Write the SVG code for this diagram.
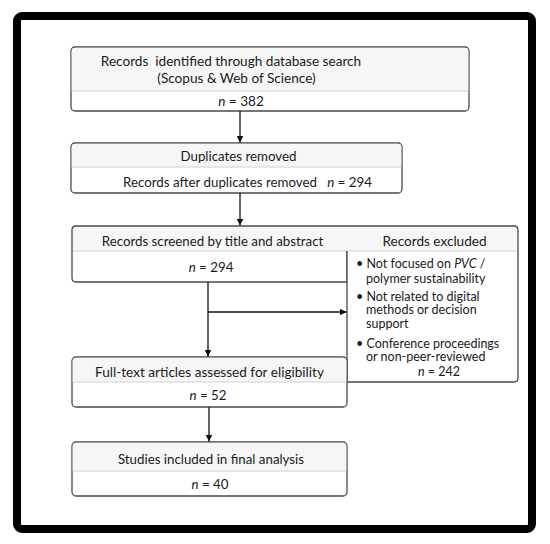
<svg xmlns="http://www.w3.org/2000/svg" width="550" height="544" viewBox="0 0 550 544">
<style>
text{font-family:Lato,"Open Sans","DejaVu Sans",sans-serif;font-size:13.3px;fill:#1a1a1a;white-space:pre}
.big{font-size:13.6px}
.bl{font-size:12.5px}
.box{fill:#fff;stroke:#4a4a4a;stroke-width:1.3}
.hdr{fill:#f6f6f6;stroke:none}
.div{stroke:#d0d0d0;stroke-width:1}
.edge{stroke:#4a4a4a;stroke-width:1.3;fill:none}
.conn{stroke:#111;stroke-width:1.3;fill:none}
.m{text-anchor:middle}
.i{font-style:italic}
</style>
<defs>
<marker id="ah" viewBox="0 0 10 10" refX="10" refY="5" markerWidth="7" markerHeight="7" markerUnits="userSpaceOnUse" orient="auto">
<path d="M0,0 L10,5 L0,10 Z" fill="#111"/>
</marker>
</defs>
<rect x="17" y="16" width="515" height="513" rx="5" fill="#fff" stroke="#000" stroke-width="8"/>
<g id="node-identified">
<rect class="box" x="71" y="47" width="398" height="64" rx="4"/>
<path class="hdr" d="M75,47.7 H465 Q468.3,47.7 468.3,51 V90.5 H71.7 V51 Q71.7,47.7 75,47.7 Z"/>
<line class="div" x1="71.7" y1="91" x2="468.3" y2="91"/>
<text x="231" y="66" class="m big" xml:space="preserve">Records  identified through database search</text>
<text x="236.5" y="82.5" class="m big">(Scopus &amp; Web of Science)</text>
<text x="241" y="106" class="m big"><tspan class="i">n</tspan> = 382</text>
</g>
<g id="node-duplicates">
<rect class="box" x="71" y="143" width="331" height="50" rx="4"/>
<path class="hdr" d="M75,143.7 H398 Q401.3,143.7 401.3,147 V166.5 H71.7 V147 Q71.7,143.7 75,143.7 Z"/>
<line class="div" x1="71.7" y1="167" x2="401.3" y2="167"/>
<text x="238.5" y="160.5" class="m">Duplicates removed</text>
<text x="247.5" y="186.5" class="m" xml:space="preserve">Records after duplicates removed   <tspan class="i">n</tspan> = 294</text>
</g>
<g id="node-screened">
<path d="M76,226 H347 V282 H76 Q72,282 72,278 V230 Q72,226 76,226 Z" fill="#fff"/>
<path class="hdr" d="M76,226.7 H347 V250.5 H72.7 V230 Q72.7,226.7 76,226.7 Z"/>
<line class="div" x1="72.7" y1="251" x2="347" y2="251"/>
<path class="edge" d="M347,226 H76 Q72,226 72,230 V278 Q72,282 76,282 H347 V251"/>
<text x="212.5" y="245.5" class="m">Records screened by title and abstract</text>
<text x="211" y="271.5" class="m"><tspan class="i">n</tspan> = 294</text>
</g>
<g id="node-excluded">
<path d="M347,226 H514 Q518,226 518,230 V378 Q518,382 514,382 H347 Z" fill="#fff"/>
<path class="hdr" d="M347,226.7 H514 Q517.3,226.7 517.3,230 V250.5 H347 Z"/>
<line class="div" x1="347" y1="251" x2="517.3" y2="251"/>
<path class="edge" d="M347,226 H514 Q518,226 518,230 V378 Q518,382 514,382 H347 V251"/>
<text x="434.5" y="245.5" class="m" style="font-size:13.6px">Records excluded</text>
<text x="356" y="268" class="bl">• Not focused on <tspan class="i">PVC</tspan> /</text>
<text x="366" y="282.5" class="bl">polymer sustainability</text>
<text x="356" y="300.5" class="bl">• Not related to digital</text>
<text x="366" y="314" class="bl">methods or decision</text>
<text x="366" y="328" class="bl">support</text>
<text x="356" y="347.5" class="bl">• Conference proceedings</text>
<text x="366" y="361" class="bl">or non-peer-reviewed</text>
<text x="439" y="376" class="m bl"><tspan class="i">n</tspan> = 242</text>
</g>
<g id="node-fulltext">
<rect class="box" x="72" y="357" width="275" height="50" rx="4"/>
<path class="hdr" d="M76,357.7 H343 Q346.3,357.7 346.3,361 V381.5 H72.7 V361 Q72.7,357.7 76,357.7 Z"/>
<line class="div" x1="72.7" y1="382" x2="346.3" y2="382"/>
<text x="209.5" y="376.5" class="m" style="font-size:13.6px">Full-text articles assessed for eligibility</text>
<text x="208" y="399.5" class="m"><tspan class="i">n</tspan> = 52</text>
</g>
<g id="node-included">
<rect class="box" x="72" y="442" width="275" height="54" rx="4"/>
<path class="hdr" d="M76,442.7 H343 Q346.3,442.7 346.3,446 V470.5 H72.7 V446 Q72.7,442.7 76,442.7 Z"/>
<line class="div" x1="72.7" y1="471" x2="346.3" y2="471"/>
<text x="211" y="463.5" class="m">Studies included in final analysis</text>
<text x="210" y="488.5" class="m"><tspan class="i">n</tspan> = 40</text>
</g>
<g id="connectors">
<line class="conn" x1="240" y1="111" x2="240" y2="142.5" marker-end="url(#ah)"/>
<line class="conn" x1="240" y1="193" x2="240" y2="225.5" marker-end="url(#ah)"/>
<line class="conn" x1="208" y1="282" x2="208" y2="356.5" marker-end="url(#ah)"/>
<line class="conn" x1="208" y1="312" x2="346.5" y2="312" marker-end="url(#ah)"/>
<line class="conn" x1="209" y1="407" x2="209" y2="441.5" marker-end="url(#ah)"/>
</g>
</svg>
